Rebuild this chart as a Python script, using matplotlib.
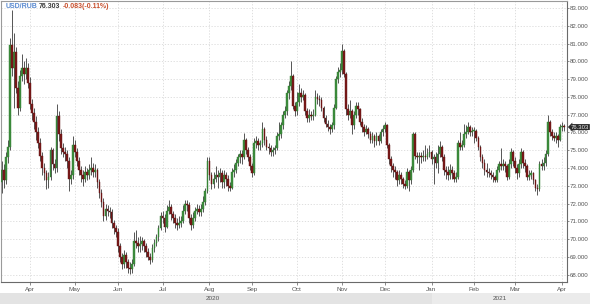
import matplotlib
matplotlib.use('Agg')
import matplotlib.pyplot as plt
import matplotlib.transforms as mtrans
from matplotlib.patches import Rectangle
import numpy as np
import pandas as pd

plt.rcParams['font.family'] = ['Liberation Sans', 'DejaVu Sans']

# trading days (x categories)
dates = pd.bdate_range('2020-03-12', '2021-04-02')

open_ = [73.2, 73.9, 73.3, 74.6, 75.2, 80.9, 79.6, 80.5, 78.5, 77.4,
         79.2, 79.6, 79.3, 79.6, 78.8, 77.6, 77.1, 76.6, 76.0, 75.4,
         74.7, 74.0, 73.7, 73.3, 73.5, 75.0, 74.2, 74.0, 76.9, 75.9,
         75.1, 74.9, 74.8, 74.4, 73.4, 73.6, 75.3, 74.9, 74.4, 73.9,
         73.6, 73.4, 73.8, 73.6, 73.9, 74.0, 73.8, 73.9, 73.2, 72.6,
         72.1, 71.3, 71.7, 71.6, 71.5, 70.9, 70.6, 70.4, 69.6, 69.0,
         68.6, 69.1, 68.7, 68.4, 68.3, 68.6, 69.9, 69.8, 69.6, 69.7,
         69.9, 69.6, 69.3, 69.0, 68.8, 69.5, 69.8, 70.1, 70.6, 71.3,
         71.2, 70.7, 71.6, 71.8, 71.4, 71.2, 70.9, 70.8, 70.9, 71.0,
         71.6, 72.0, 71.9, 71.2, 70.8, 71.2, 71.6, 71.7, 71.5, 71.7,
         72.1, 72.7, 74.4, 73.6, 73.1, 73.4, 73.6, 73.5, 73.7, 73.2,
         73.6, 73.4, 73.0, 72.9, 73.8, 73.9, 74.3, 74.6, 74.8, 74.6,
         75.6, 75.0, 74.6, 74.1, 73.7, 75.4, 75.5, 75.3, 75.4, 76.2,
         75.6, 75.2, 75.1, 74.9, 75.0, 75.1, 75.8, 75.9, 76.4, 77.0,
         77.2, 78.2, 78.6, 79.2, 77.5, 77.2, 77.7, 78.2, 78.0, 78.1,
         77.2, 76.8, 77.0, 76.9, 77.0, 78.0, 77.9, 77.8, 77.4, 76.8,
         76.5, 76.3, 76.2, 76.4, 77.4, 79.0, 79.4, 79.5, 80.6, 79.3,
         77.3, 77.0, 77.2, 76.4, 77.0, 77.5, 77.3, 76.6, 76.3, 76.0,
         76.2, 75.9, 75.6, 75.8, 75.5, 75.8, 75.5, 76.0, 76.2, 76.4,
         75.3, 74.5, 74.1, 73.9, 73.8, 73.3, 73.6, 73.4, 73.1, 73.0,
         73.8, 73.3, 73.9, 75.9, 74.7, 74.6, 74.7, 74.6, 74.7, 74.6,
         74.8, 74.9, 74.5, 74.6, 74.3, 74.8, 75.2, 74.6, 73.9, 73.8,
         73.6, 73.9, 73.7, 73.4, 73.5, 75.4, 75.2, 75.3, 75.9, 76.0,
         76.3, 76.0, 76.1, 76.1, 75.7, 75.2, 74.6, 74.3, 73.9, 73.8,
         73.7, 73.6, 73.5, 73.3, 73.9, 74.2, 74.1, 74.2, 74.1, 73.5,
         74.2, 74.9, 74.4, 74.0, 73.7, 74.2, 74.9, 74.3, 74.1, 73.5,
         73.6, 73.7, 73.3, 72.9, 72.8, 74.2, 74.1, 74.3, 74.8, 76.6,
         76.0, 75.8, 75.7, 75.8, 75.6, 76.3, 76.386]

high = [74.4, 74.2, 74.9, 75.6, 81.3, 82.9, 81.6, 80.8, 78.9, 79.5,
        80.4, 80.0, 80.2, 79.9, 79.1, 77.9, 77.4, 76.9, 76.3, 75.7,
        74.9, 74.3, 73.9, 73.8, 75.2, 75.1, 74.5, 77.6, 77.2, 76.2,
        75.4, 75.2, 75.0, 74.6, 73.9, 75.8, 75.6, 75.1, 74.6, 74.1,
        73.9, 74.1, 74.0, 74.2, 74.6, 74.3, 74.2, 74.0, 73.4, 72.8,
        72.3, 72.0, 71.9, 71.8, 71.7, 71.1, 70.8, 70.6, 69.8, 69.2,
        69.4, 69.3, 68.9, 68.7, 68.9, 70.4, 70.5, 70.1, 70.2, 70.1,
        70.0, 69.8, 69.5, 69.2, 69.7, 70.0, 70.3, 70.8, 71.5, 71.6,
        71.4, 71.9, 72.2, 72.0, 71.6, 71.4, 71.2, 71.3, 71.3, 71.9,
        72.2, 72.2, 72.1, 71.4, 71.5, 71.8, 72.0, 71.9, 72.0, 72.4,
        72.9, 74.6, 74.6, 73.8, 73.8, 74.1, 73.9, 74.0, 73.9, 73.9,
        73.8, 73.6, 73.2, 74.0, 74.2, 74.5, 74.8, 75.0, 75.0, 75.95,
        75.7, 75.2, 74.8, 74.3, 75.7, 75.8, 75.7, 75.6, 76.6, 76.3,
        75.8, 75.4, 75.3, 75.2, 75.3, 76.0, 76.6, 76.6, 77.2, 77.5,
        78.4, 78.9, 80.0, 79.3, 77.7, 78.3, 78.7, 78.5, 78.4, 78.2,
        77.4, 77.3, 77.2, 77.3, 78.4, 78.2, 78.1, 78.0, 77.5, 77.0,
        76.7, 76.5, 76.6, 77.6, 79.2, 79.7, 79.9, 80.95, 80.7, 79.4,
        77.6, 77.8, 77.3, 77.2, 77.7, 77.7, 77.4, 76.8, 76.5, 76.4,
        76.3, 76.1, 76.0, 75.9, 76.0, 75.9, 76.2, 76.4, 76.6, 76.5,
        75.4, 74.7, 74.3, 74.1, 73.9, 73.9, 73.8, 73.5, 73.3, 74.0,
        73.9, 74.1, 76.0, 76.0, 74.9, 74.9, 74.9, 75.0, 75.3, 75.1,
        75.3, 75.0, 74.8, 74.9, 75.3, 75.5, 75.3, 74.8, 74.1, 74.1,
        74.2, 74.1, 73.9, 73.8, 75.6, 76.0, 75.6, 76.5, 76.4, 76.6,
        76.4, 76.3, 76.3, 76.2, 75.8, 75.3, 74.8, 74.5, 74.3, 74.0,
        73.9, 73.8, 73.6, 74.1, 74.4, 75.1, 74.5, 74.4, 74.2, 74.5,
        75.1, 75.0, 74.6, 74.2, 74.5, 75.1, 75.0, 74.5, 74.2, 73.9,
        73.9, 73.8, 73.4, 73.1, 74.4, 74.5, 74.6, 75.0, 77.0, 76.7,
        76.2, 76.0, 76.0, 75.9, 76.5, 76.6, 76.5]

low = [72.6, 72.9, 73.1, 74.3, 75.0, 79.2, 77.4, 78.2, 77.0, 77.2,
       78.9, 78.7, 79.0, 78.5, 77.3, 76.7, 76.2, 75.6, 75.1, 74.4,
       73.6, 73.3, 72.8, 72.9, 73.3, 73.9, 73.7, 73.8, 75.5, 74.8,
       74.6, 74.4, 74.0, 72.7, 73.1, 73.4, 74.6, 74.1, 73.6, 73.2,
       73.0, 73.2, 73.3, 73.4, 73.6, 73.5, 73.5, 72.9, 72.3, 71.8,
       71.0, 71.1, 71.3, 71.2, 70.6, 70.3, 70.1, 69.3, 68.7, 68.3,
       68.4, 68.4, 68.1, 68.05, 68.1, 68.5, 69.5, 69.3, 69.3, 69.4,
       69.3, 69.0, 68.8, 68.6, 68.7, 69.3, 69.6, 69.9, 70.5, 70.9,
       70.4, 70.6, 71.4, 71.1, 70.9, 70.6, 70.5, 70.6, 70.7, 70.9,
       71.4, 71.6, 70.9, 70.5, 70.6, 71.0, 71.4, 71.3, 71.3, 71.5,
       71.9, 72.6, 73.3, 72.8, 72.9, 73.2, 72.9, 73.2, 72.9, 72.9,
       73.0, 72.7, 72.7, 72.8, 73.5, 73.7, 74.1, 74.3, 74.2, 74.5,
       74.8, 74.4, 73.9, 73.5, 73.6, 75.1, 75.0, 75.0, 75.2, 75.3,
       75.0, 74.8, 74.7, 74.7, 74.8, 75.0, 75.6, 75.7, 76.2, 76.8,
       77.0, 77.9, 78.4, 77.3, 76.9, 77.0, 77.5, 77.7, 77.8, 77.0,
       76.6, 76.6, 76.7, 76.7, 76.9, 77.6, 77.5, 77.2, 76.6, 76.3,
       76.1, 75.9, 76.0, 76.2, 77.3, 78.8, 79.1, 79.3, 79.1, 77.0,
       76.7, 76.8, 75.9, 76.2, 76.8, 77.0, 76.4, 76.0, 75.8, 75.9,
       75.7, 75.4, 75.4, 75.2, 75.3, 75.3, 75.4, 75.8, 76.0, 75.1,
       74.2, 73.8, 73.5, 73.4, 73.0, 73.1, 73.1, 72.9, 72.8, 72.9,
       72.7, 73.1, 73.8, 74.5, 74.3, 73.9, 74.3, 74.4, 74.4, 74.5,
       74.6, 74.2, 73.1, 74.0, 73.7, 74.6, 74.4, 73.6, 73.4, 73.3,
       73.4, 73.4, 73.2, 73.2, 73.4, 75.0, 75.0, 75.2, 75.7, 75.9,
       75.8, 75.8, 75.4, 75.5, 75.0, 74.4, 74.0, 73.6, 73.5, 73.5,
       73.4, 73.2, 73.2, 73.2, 73.8, 73.9, 73.9, 73.8, 73.3, 73.4,
       74.0, 74.1, 73.7, 73.4, 73.5, 74.0, 74.0, 73.8, 73.3, 73.3,
       73.4, 73.1, 72.7, 72.5, 72.7, 73.9, 73.9, 74.1, 74.7, 75.8,
       75.6, 75.5, 75.4, 75.2, 75.5, 76.1, 76.1]

close = [73.9, 73.3, 74.6, 75.2, 80.9, 79.6, 80.5, 78.5, 77.4, 79.2,
         79.6, 79.3, 79.6, 78.8, 77.6, 77.1, 76.6, 76.0, 75.4, 74.7,
         74.0, 73.7, 73.3, 73.5, 75.0, 74.2, 74.0, 76.9, 75.9, 75.1,
         74.9, 74.8, 74.4, 73.4, 73.6, 75.3, 74.9, 74.4, 73.9, 73.6,
         73.4, 73.8, 73.6, 73.9, 74.0, 73.8, 73.9, 73.2, 72.6, 72.1,
         71.3, 71.7, 71.6, 71.5, 70.9, 70.6, 70.4, 69.6, 69.0, 68.6,
         69.1, 68.7, 68.4, 68.3, 68.6, 69.9, 69.8, 69.6, 69.7, 69.9,
         69.6, 69.3, 69.0, 68.8, 69.5, 69.8, 70.1, 70.6, 71.3, 71.2,
         70.7, 71.6, 71.8, 71.4, 71.2, 70.9, 70.8, 70.9, 71.0, 71.6,
         72.0, 71.9, 71.2, 70.8, 71.2, 71.6, 71.7, 71.5, 71.7, 72.1,
         72.7, 74.4, 73.6, 73.1, 73.4, 73.6, 73.5, 73.7, 73.2, 73.6,
         73.4, 73.0, 72.9, 73.8, 73.9, 74.3, 74.6, 74.8, 74.6, 75.6,
         75.0, 74.6, 74.1, 73.7, 75.4, 75.5, 75.3, 75.4, 76.2, 75.6,
         75.2, 75.1, 74.9, 75.0, 75.1, 75.8, 75.9, 76.4, 77.0, 77.2,
         78.2, 78.6, 79.2, 77.5, 77.2, 77.7, 78.2, 78.0, 78.1, 77.2,
         76.8, 77.0, 76.9, 77.0, 78.0, 77.9, 77.8, 77.4, 76.8, 76.5,
         76.3, 76.2, 76.4, 77.4, 79.0, 79.4, 79.5, 80.6, 79.3, 77.3,
         77.0, 77.2, 76.4, 77.0, 77.5, 77.3, 76.6, 76.3, 76.0, 76.2,
         75.9, 75.6, 75.8, 75.5, 75.8, 75.5, 76.0, 76.2, 76.4, 75.3,
         74.5, 74.1, 73.9, 73.8, 73.3, 73.6, 73.4, 73.1, 73.0, 73.8,
         73.3, 73.9, 75.9, 74.7, 74.6, 74.7, 74.6, 74.7, 74.6, 74.8,
         74.9, 74.5, 74.6, 74.3, 74.8, 75.2, 74.6, 73.9, 73.8, 73.6,
         73.9, 73.7, 73.4, 73.5, 75.4, 75.2, 75.3, 75.9, 76.0, 76.3,
         76.0, 76.1, 76.1, 75.7, 75.2, 74.6, 74.3, 73.9, 73.8, 73.7,
         73.6, 73.5, 73.3, 73.9, 74.2, 74.1, 74.2, 74.1, 73.5, 74.2,
         74.9, 74.4, 74.0, 73.7, 74.2, 74.9, 74.3, 74.1, 73.5, 73.6,
         73.7, 73.3, 72.9, 72.8, 74.2, 74.1, 74.3, 74.8, 76.6, 76.0,
         75.8, 75.7, 75.8, 75.6, 76.3, 76.386, 76.303]

y_ticks = list(range(68, 84))
month_names = ['Jan', 'Feb', 'Mar', 'Apr', 'May', 'Jun', 'Jul', 'Aug',
               'Sep', 'Oct', 'Nov', 'Dec']
title_pair = 'USD/RUB'
last_price = '76.303'
change_text = '-0.083(-0.11%)'

n = min(len(dates), len(close), len(open_), len(high), len(low))
idx = np.arange(n)
o = np.array(open_[:n]); c = np.array(close[:n])
h = np.array(high[:n]); l = np.array(low[:n])

W, H = 590, 304
fig = plt.figure(figsize=(W / 100, H / 100), dpi=100)
fig.patch.set_facecolor('white')
ax = fig.add_axes([1 / W, 22 / H, 566 / W, 281 / H])
ax.set_facecolor('white')

# month ticks
d = pd.DatetimeIndex(dates[:n])
ym = d.year * 12 + d.month
first = [i for i in range(1, n) if ym[i] != ym[i - 1]]
tick_pos = first
tick_lab = [month_names[d[i].month - 1] for i in first]

ax.set_xlim(-0.3, 277.5)
ax.set_ylim(67.59, 83.39)

for yv in y_ticks:
    ax.axhline(yv, color='#d9d9d9', lw=0.6, ls=(0, (1.5, 2)), zorder=0)
for xp in tick_pos:
    ax.axvline(xp, color='#d9d9d9', lw=0.6, ls=(0, (1.5, 2)), zorder=0)

up = c >= o
ax.vlines(idx, l, h, color='#555555', lw=0.7, zorder=2)
body_h = np.maximum(np.abs(c - o), 0.05)
ax.bar(idx[up], body_h[up], bottom=np.minimum(o, c)[up], width=0.85,
       color='#3e8e3e', edgecolor='#2f7a2f', linewidth=0.3, zorder=3)
ax.bar(idx[~up], body_h[~up], bottom=np.minimum(o, c)[~up], width=0.85,
       color='#7a1a1a', edgecolor='#5e1010', linewidth=0.3, zorder=3)

ax.yaxis.tick_right()
ax.set_yticks(y_ticks)
ax.set_yticklabels([f'{v:.3f}' for v in y_ticks])
ax.tick_params(axis='y', length=1.6, width=0.6, color='#777777', labelsize=4.4,
               labelcolor='#555555', pad=0.6)
ax.set_xticks(tick_pos)
ax.set_xticklabels(tick_lab)
ax.tick_params(axis='x', length=2.2, width=0.6, color='#777777', labelsize=4.6,
               labelcolor='#555555', pad=1.5)

for s in ['left', 'top']:
    ax.spines[s].set_color('#9a9a9a')
    ax.spines[s].set_linewidth(0.8)
for s in ['right', 'bottom']:
    ax.spines[s].set_color('#6a6a6a')
    ax.spines[s].set_linewidth(0.8)

# last price marker
tr = mtrans.blended_transform_factory(ax.transAxes, ax.transData)
ax.text(1.007, float(close[n - 1]), last_price, transform=tr, va='center', ha='left',
        fontsize=4.3, color='#f0f0f0', zorder=10, clip_on=False,
        bbox=dict(boxstyle='larrow,pad=0.08', fc='#2b2b2b', ec='none'))

# year band
jan_idx = [i for i in range(1, n) if d[i].year != d[i - 1].year][0]
xf = ax.transData.transform((jan_idx, 0))[0] / W
fig.patches.append(Rectangle((0, 0), xf, 11 / H, transform=fig.transFigure,
                             fc='#e3e3e3', ec='none', zorder=0))
fig.patches.append(Rectangle((xf, 0), 1 - xf, 11 / H, transform=fig.transFigure,
                             fc='#ebebeb', ec='none', zorder=0))
fig.text(213 / W, 5.5 / H, '2020', fontsize=4.6, color='#555555', ha='center', va='center')
fig.text(500 / W, 5.5 / H, '2021', fontsize=4.6, color='#555555', ha='center', va='center')

# title
ty = 1 - 6.5 / H
fig.text(6 / W, ty, title_pair, fontsize=5, fontweight='bold', color='#5a8ad0', va='center')
fig.text(38.5 / W, ty, last_price, fontsize=5, fontweight='bold', color='#3a3a3a', va='center')
fig.text(63 / W, ty, change_text, fontsize=5, fontweight='bold', color='#c8502e', va='center')

fig.savefig('out.png', dpi=100, facecolor='white')
